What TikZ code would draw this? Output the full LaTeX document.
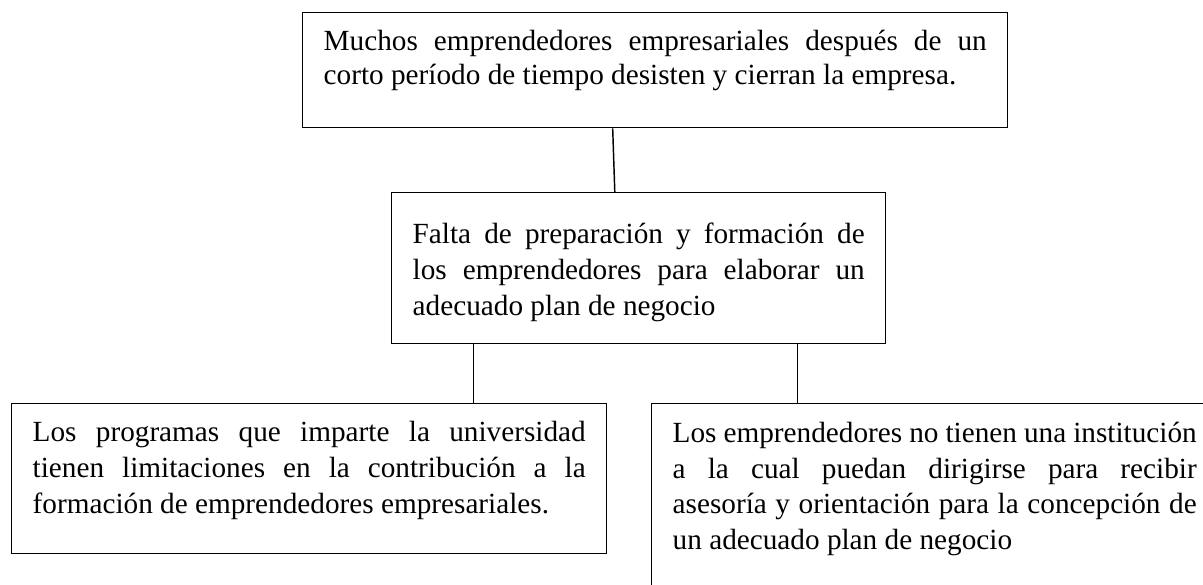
\documentclass[tikz,border=0pt]{standalone}
\usepackage{fontspec}
\setmainfont{Liberation Serif}
\usetikzlibrary{positioning,calc}
\newcommand{\boxtext}[3]{\parbox[t][#2][t]{#1}{\hyphenpenalty=10000\strut #3}}

\begin{document}
\begin{tikzpicture}[x=0.4138pt,y=-0.4138pt,
    problem/.style={draw,line width=0.6pt,fill=white,anchor=north west,inner xsep=8.69pt,inner ysep=5.3pt,font=\fontsize{12.1pt}{14.8pt}\selectfont},
    effect/.style={problem,inner ysep=5.6pt,font=\fontsize{12.1pt}{14.2pt}\selectfont},
    link/.style={line width=0.6pt}
    ]
    %cadre
    \clip (0,0) rectangle (1203,585);
    \fill[white] (0,0) rectangle (1203,585);

    \node[effect] (efecto) at (302,12) {\boxtext{274.35pt}{36.4pt}{Muchos emprendedores empresariales después de un\linebreak corto período de tiempo desisten y cierran la empresa.}};
    \node[problem,inner ysep=10.7pt] (causa) at (391,192) {\boxtext{187.04pt}{41.1pt}{Falta de preparación y formación de\linebreak los emprendedores para elaborar un\linebreak adecuado plan de negocio}};
    \node[problem] (univ) at (11,403) {\boxtext{228.83pt}{51.48pt}{Los programas que imparte la universidad\linebreak tienen limitaciones en la contribución a la\linebreak formación de emprendedores empresariales.}};
    \node[problem,inner ysep=5.6pt] (inst) at (651,403) {\boxtext{216.83pt}{91pt}{Los emprendedores no tienen una institución\linebreak a la cual puedan dirigirse para recibir\linebreak asesoría y orientación para la concepción de\linebreak un adecuado plan de negocio}};

    \draw[link] ([xshift=-17.6pt]efecto.south) -- ([xshift=-9.9pt]causa.north);
    \draw[link] ([xshift=-68.3pt]causa.south) -- ([xshift=-68.3pt]causa.south |- univ.north);
    \draw[link] ([xshift=65.8pt]causa.south) -- ([xshift=65.8pt]causa.south |- inst.north);
\end{tikzpicture}
\end{document}
